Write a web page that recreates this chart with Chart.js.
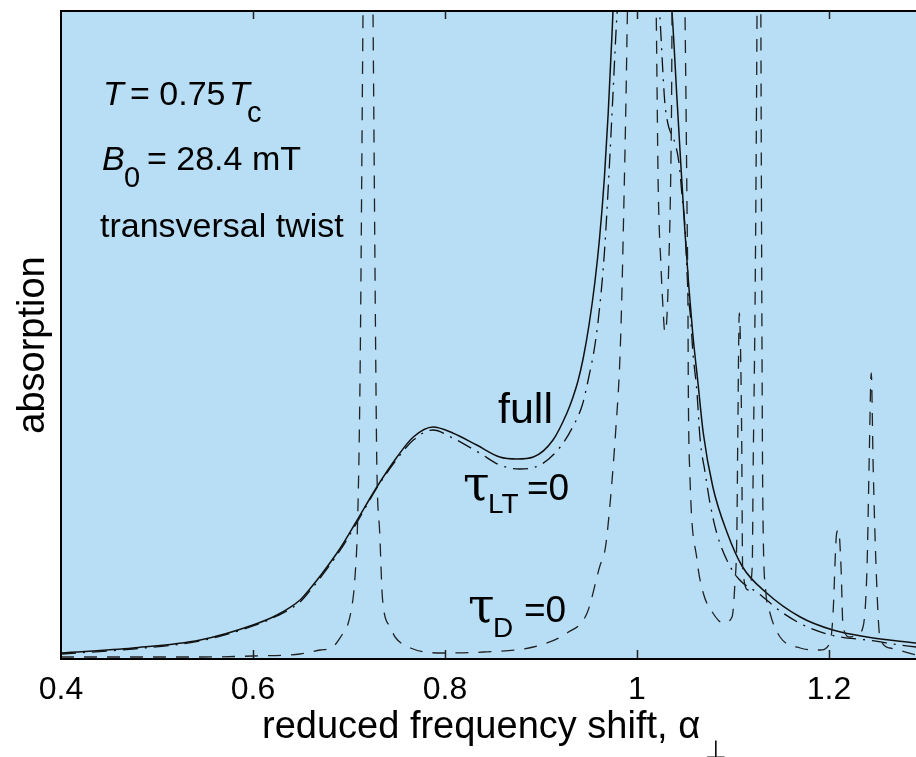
<!DOCTYPE html>
<html>
<head>
<meta charset="utf-8">
<script src="https://cdn.jsdelivr.net/npm/chart.js@4.4.1/dist/chart.umd.min.js"></script>
<style>
  html, body { margin: 0; padding: 0; background: #ffffff; }
  #wrap { width: 916px; height: 757px; }
</style>
</head>
<body>
<div id="wrap"><canvas id="c" width="916" height="757"></canvas></div>
<script>
// ---- data ----
// x: reduced frequency shift; y: absorption (arbitrary units, axis 0..6.47)
const xTickValues = [0.4, 0.6, 0.8, 1.0, 1.2];
const xTickLabels = ['0.4', '0.6', '0.8', '1', '1.2'];

// "full" (solid)
const xFull = [0.400, 0.475, 0.545, 0.600, 0.625, 0.649, 0.660, 0.670, 0.691, 0.708, 0.729, 0.750, 0.767, 0.7875, 0.808, 0.833, 0.857, 0.875, 0.892, 0.9125, 0.927, 0.933, 0.9385, 0.944, 0.950, 0.956, 0.961, 0.966, 0.970, 0.974, 0.977, 1.005, 1.0365, 1.0417, 1.0458, 1.050, 1.054, 1.058, 1.0635, 1.069, 1.079, 1.094, 1.110, 1.135, 1.170, 1.204, 1.2396, 1.2906];
const yFull = [0.05, 0.10, 0.18, 0.33, 0.43, 0.58, 0.70, 0.82, 1.10, 1.37, 1.71, 2.01, 2.21, 2.31, 2.25, 2.13, 2.01, 1.99, 2.01, 2.18, 2.45, 2.60, 2.77, 3.00, 3.33, 3.75, 4.20, 4.80, 5.45, 6.25, 6.90, 9.5, 6.45, 5.58, 4.91, 4.25, 3.71, 3.25, 2.75, 2.25, 1.71, 1.25, 0.91, 0.65, 0.41, 0.28, 0.21, 0.15];

// tau_LT = 0 (dash-dot)
const xLT = [0.400, 0.475, 0.545, 0.600, 0.625, 0.649, 0.660, 0.670, 0.691, 0.708, 0.729, 0.750, 0.767, 0.7875, 0.808, 0.836, 0.857, 0.878, 0.899, 0.920, 0.933, 0.943, 0.950, 0.956, 0.961, 0.966, 0.970, 0.9745, 0.979, 1.001, 1.024, 1.027, 1.029, 1.032, 1.036, 1.0396, 1.044, 1.047, 1.050, 1.053, 1.056, 1.058, 1.0625, 1.0656, 1.071, 1.076, 1.083, 1.095, 1.107, 1.126, 1.152, 1.180, 1.2115, 1.2396, 1.274, 1.2906];
const yLT = [0.04, 0.09, 0.17, 0.32, 0.42, 0.56, 0.68, 0.80, 1.08, 1.35, 1.70, 1.99, 2.18, 2.28, 2.20, 2.05, 1.93, 1.89, 1.93, 2.11, 2.31, 2.53, 2.82, 3.12, 3.50, 4.05, 4.70, 5.55, 6.41, 9.0, 6.38, 5.85, 5.55, 5.35, 5.23, 5.15, 4.93, 4.61, 4.31, 3.68, 3.38, 3.08, 2.65, 2.20, 1.85, 1.55, 1.25, 0.95, 0.78, 0.65, 0.45, 0.30, 0.21, 0.18, 0.13, 0.11];

// tau_D = 0 (dashed)
const xD = [0.400, 0.545, 0.600, 0.649, 0.670, 0.683, 0.694, 0.698, 0.704, 0.706, 0.709, 0.7115, 0.7146, 0.720, 0.725, 0.728, 0.729, 0.732, 0.735, 0.743, 0.748, 0.764, 0.798, 0.840, 0.892, 0.927, 0.948, 0.961, 0.967, 0.972, 0.978, 0.982, 0.984, 0.986, 0.9885, 0.990, 1.005, 1.020, 1.021, 1.022, 1.025, 1.027, 1.029, 1.031, 1.033, 1.035, 1.036, 1.0365, 1.044, 1.050, 1.051, 1.052, 1.053, 1.0535, 1.055, 1.0625, 1.069, 1.079, 1.0896, 1.099, 1.102, 1.104, 1.105, 1.1065, 1.109, 1.110, 1.116, 1.120, 1.121, 1.123, 1.125, 1.1275, 1.129, 1.130, 1.131, 1.134, 1.1385, 1.149, 1.170, 1.1906, 1.201, 1.204, 1.208, 1.210, 1.2125, 1.2146, 1.222, 1.229, 1.2354, 1.2396, 1.2417, 1.244, 1.246, 1.249, 1.253, 1.2635, 1.2906];
const yD = [0.01, 0.01, 0.02, 0.04, 0.08, 0.11, 0.25, 0.31, 0.58, 0.78, 1.38, 2.81, 6.47, 12.0, 6.47, 2.81, 1.91, 1.25, 0.58, 0.31, 0.21, 0.10, 0.05, 0.06, 0.11, 0.25, 0.45, 0.91, 1.10, 1.55, 2.30, 2.95, 3.55, 4.40, 5.58, 6.45, 12.0, 6.45, 5.58, 4.75, 3.91, 3.51, 3.26, 3.38, 3.91, 4.75, 5.58, 6.45, 12.0, 6.45, 5.58, 4.58, 3.58, 2.61, 1.85, 0.98, 0.65, 0.45, 0.35, 0.41, 0.75, 1.25, 2.25, 3.45, 2.25, 0.91, 0.68, 0.91, 1.91, 3.58, 6.45, 12.0, 6.45, 3.58, 1.58, 0.68, 0.45, 0.21, 0.10, 0.08, 0.15, 0.41, 1.25, 1.28, 0.91, 0.31, 0.21, 0.23, 0.31, 0.91, 1.91, 2.85, 1.91, 0.91, 0.21, 0.10, 0.03];

const pts = (xs, ys) => xs.map((x, i) => ({ x: x, y: ys[i] }));

const SANS = '"Liberation Sans", Arial, Helvetica, sans-serif';

function txt(ctx, s, x, y, font, align) {
  ctx.font = font;
  ctx.textAlign = align || 'left';
  ctx.textBaseline = 'alphabetic';
  ctx.fillText(s, x, y);
}

const decor = {
  id: 'decor',
  beforeDraw(chart) {
    const { ctx, chartArea: a } = chart;
    ctx.save();
    ctx.fillStyle = '#b7def5';
    ctx.fillRect(a.left, a.top, a.right - a.left, a.bottom - a.top);
    ctx.restore();
  },
  afterDatasetsDraw(chart) {
    const { ctx, chartArea: a } = chart;
    const xs = chart.scales.x;
    ctx.save();
    // frame
    ctx.strokeStyle = '#000';
    ctx.lineWidth = 2;
    ctx.beginPath();
    ctx.moveTo(a.right + 2, a.top);
    ctx.lineTo(a.left, a.top);
    ctx.lineTo(a.left, a.bottom + 1);
    ctx.lineTo(a.right + 2, a.bottom + 1);
    ctx.stroke();
    // inward tick marks
    ctx.lineWidth = 1.5;
    ctx.strokeStyle = '#222';
    xTickValues.forEach(v => {
      const p = Math.round(xs.getPixelForValue(v)) + 0.5;
      if (p <= a.left + 2) return;
      ctx.beginPath();
      ctx.moveTo(p, a.top); ctx.lineTo(p, a.top + 8);
      ctx.moveTo(p, a.bottom); ctx.lineTo(p, a.bottom - 8);
      ctx.stroke();
    });
    ctx.fillStyle = '#000';
    // annotations
    txt(ctx, 'T', 103, 105, 'italic 34px ' + SANS);
    txt(ctx, '= 0.75', 130, 105, '34px ' + SANS);
    txt(ctx, 'T', 229, 105, 'italic 34px ' + SANS);
    txt(ctx, 'c', 247, 122, '29px ' + SANS);
    txt(ctx, 'B', 102, 170, 'italic 34px ' + SANS);
    txt(ctx, '0', 124, 187, '29px ' + SANS);
    txt(ctx, '= 28.4 mT', 147, 170, '34px ' + SANS);
    txt(ctx, 'transversal twist', 100, 237, '34px ' + SANS);
    txt(ctx, 'full', 498, 423, '43px ' + SANS);
    txt(ctx, '\u03C4', 463, 500, '48px "DejaVu Serif", serif');
    txt(ctx, 'LT', 488, 513, '28px ' + SANS);
    txt(ctx, '=0', 527, 500, '37px ' + SANS);
    txt(ctx, '\u03C4', 468, 622, '48px "DejaVu Serif", serif');
    txt(ctx, 'D', 493, 637, '28px ' + SANS);
    txt(ctx, '=0', 524, 622, '37px ' + SANS);
    // x axis title
    txt(ctx, 'reduced frequency shift, \u03B1', 262, 738, '38px ' + SANS);
    txt(ctx, '\u22A5', 705, 758, '25px "DejaVu Sans", sans-serif');
    // y axis title
    ctx.save();
    ctx.translate(44, 345);
    ctx.rotate(-Math.PI / 2);
    txt(ctx, 'absorption', 0, 0, '38px ' + SANS, 'center');
    ctx.restore();
    ctx.restore();
  }
};

const common = { pointRadius: 0, fill: false, cubicInterpolationMode: 'monotone', borderColor: '#111' };

new Chart(document.getElementById('c'), {
  type: 'line',
  data: {
    datasets: [
      Object.assign({ label: '\u03C4D =0', data: pts(xD, yD), borderWidth: 1.3, borderDash: [13, 10] }, common, { borderColor: '#222' }),
      Object.assign({ label: '\u03C4LT =0', data: pts(xLT, yLT), borderWidth: 1.3, borderDash: [15, 7, 2, 7] }, common),
      Object.assign({ label: 'full', data: pts(xFull, yFull), borderWidth: 1.5 }, common)
    ]
  },
  options: {
    responsive: false,
    animation: false,
    devicePixelRatio: 1,
    layout: { padding: { left: 61, top: 11, right: 0, bottom: 0 } },
    plugins: { legend: { display: false }, tooltip: { enabled: false } },
    elements: { point: { radius: 0 } },
    scales: {
      x: {
        type: 'linear', min: 0.4, max: 1.2906,
        grid: { display: false }, border: { display: false },
        afterBuildTicks: s => { s.ticks = xTickValues.map(v => ({ value: v })); },
        afterFit: s => { s.height = 99; },
        ticks: {
          font: { family: 'Liberation Sans', size: 32 }, color: '#000', padding: 5,
          maxRotation: 0, autoSkip: false, includeBounds: false,
          callback: (v, i) => xTickLabels[i]
        }
      },
      y: { display: false, min: 0, max: 6.47 }
    }
  },
  plugins: [decor]
});
</script>
</body>
</html>
